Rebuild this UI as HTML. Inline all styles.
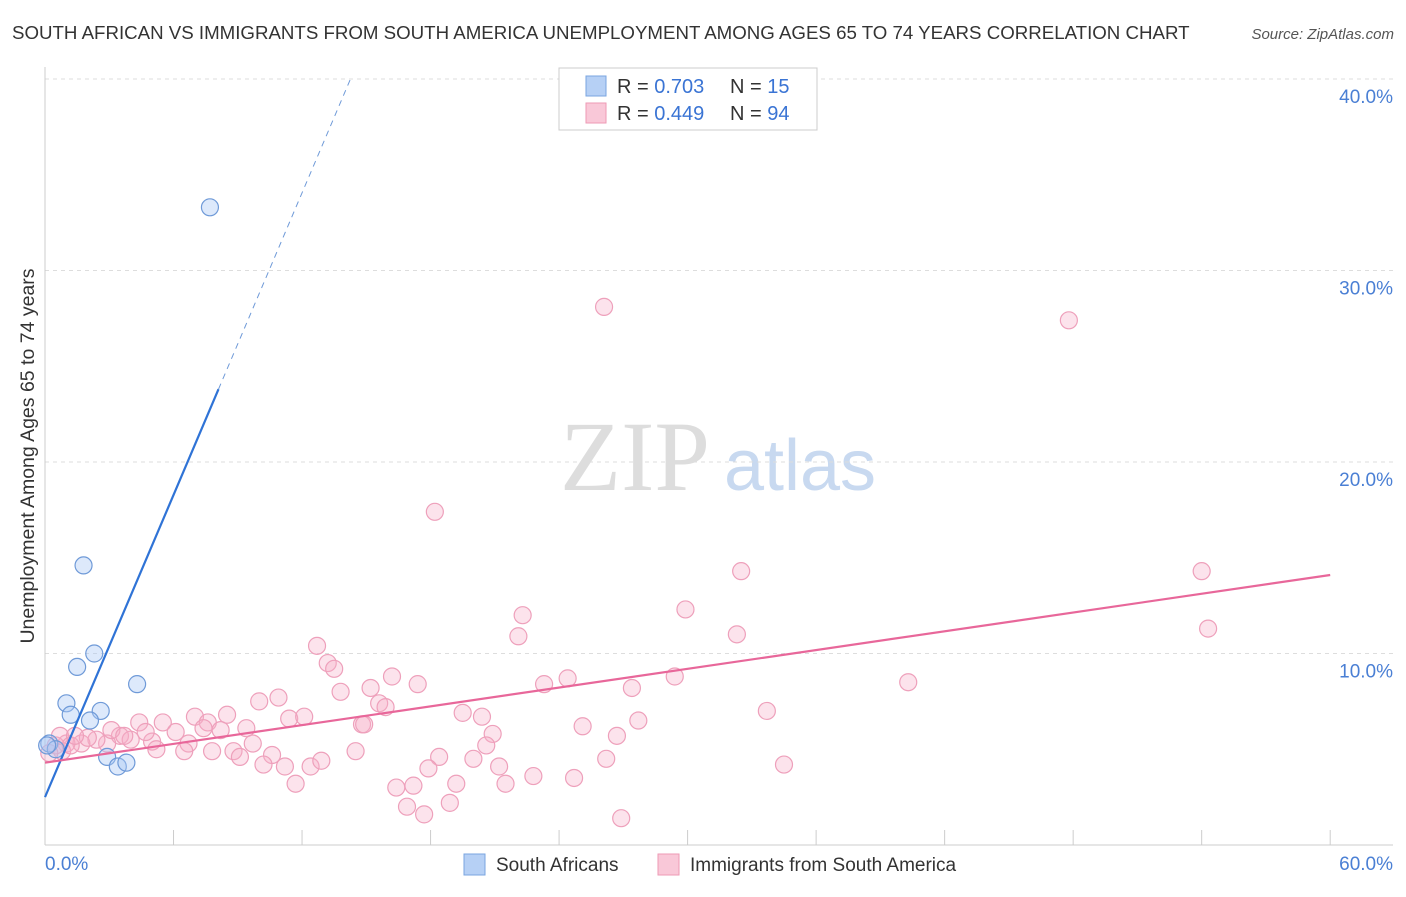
<!DOCTYPE html>
<html><head><meta charset="utf-8"><style>
body{margin:0;background:#fff;font-family:"Liberation Sans",sans-serif;}
svg text{font-family:"Liberation Sans",sans-serif;}
</style></head><body>
<svg id="c" width="1406" height="892" viewBox="0 0 1406 892">
<text x="12" y="39" font-size="18.7" fill="#333">SOUTH AFRICAN VS IMMIGRANTS FROM SOUTH AMERICA UNEMPLOYMENT AMONG AGES 65 TO 74 YEARS CORRELATION CHART</text>
<text x="1394" y="39" font-size="15" fill="#555" font-style="italic" text-anchor="end">Source: ZipAtlas.com</text>
<text transform="translate(34,456) rotate(-90)" font-size="19.5" fill="#333" text-anchor="middle">Unemployment Among Ages 65 to 74 years</text>
<g><text x="635" y="490" font-size="100" fill="#ddd" style="font-family:'Liberation Serif',serif" text-anchor="middle">ZIP</text><text x="800" y="490" font-size="72" fill="#c8d9f0" text-anchor="middle">atlas</text></g>
<g id="grid"></g><g id="axes"></g><g id="pts"></g><g id="lines"></g>
<g>
<rect x="559" y="68" width="258" height="62" fill="#fff" stroke="#ccc"/>
<rect x="586" y="76" width="20" height="20" fill="#b6d0f5" stroke="#7aa5e0"/>
<rect x="586" y="103" width="20" height="20" fill="#f9c8d8" stroke="#ee9ab5"/>
<text x="617" y="93" font-size="20" fill="#333">R = <tspan fill="#3a74d4">0.703</tspan><tspan x="730">N = </tspan><tspan fill="#3a74d4">15</tspan></text>
<text x="617" y="120" font-size="20" fill="#333">R = <tspan fill="#3a74d4">0.449</tspan><tspan x="730">N = </tspan><tspan fill="#3a74d4">94</tspan></text>
</g>
<g>
<rect x="464" y="854" width="21" height="21" fill="#b6d0f5" stroke="#7aa5e0"/>
<text x="496" y="871" font-size="19" fill="#333">South Africans</text>
<rect x="658" y="854" width="21" height="21" fill="#f9c8d8" stroke="#ee9ab5"/>
<text x="690" y="871" font-size="19" fill="#333">Immigrants from South America</text>
</g>
</svg>
<script>
const yTicks=[10,20,30,40];
const yTickLabels=["10.0%","20.0%","30.0%","40.0%"];
const xTickLabels=["0.0%","60.0%"];
const blueX=[7.7,1.8,1.5,2.3,1.0,1.2,2.6,2.1,4.3,2.9,3.4,3.8,0.2,0.5,0.1];
const blueY=[33.3,14.6,9.3,10.0,7.4,6.8,7.0,6.5,8.4,4.6,4.1,4.3,5.3,5.0,5.2];
const pinkX=[26.1,47.8,18.2,32.5,54.0,29.9,22.3,22.1,32.3,54.3,12.7,13.2,13.5,16.2,17.4,23.3,24.4,27.4,29.4,40.3,13.8,15.2,10.0,10.9,15.6,15.9,19.5,20.4,33.7,27.7,25.1,26.7,20.9,20.6,11.4,12.1,14.8,14.9,7.0,7.6,8.5,9.4,5.5,6.1,4.4,7.4,8.2,3.5,4.0,5.0,6.7,5.2,2.9,2.4,1.7,1.0,0.8,7.8,8.8,9.1,9.7,10.6,6.5,10.2,11.2,11.7,12.4,12.9,14.5,18.4,17.9,20.0,21.2,21.5,22.8,24.7,26.2,34.5,19.2,16.4,17.2,16.9,17.7,18.9,26.9,0.5,0.7,1.2,2.0,0.2,1.4,3.1,3.7,4.7];
const pinkY=[28.1,27.4,17.4,14.3,14.3,12.3,12.0,10.9,11.0,11.3,10.4,9.5,9.2,8.8,8.4,8.4,8.7,8.2,8.8,8.5,8.0,8.2,7.5,7.7,7.4,7.2,6.9,6.7,7.0,6.5,6.2,5.7,5.8,5.2,6.6,6.7,6.3,6.3,6.7,6.4,6.8,6.1,6.4,5.9,6.4,6.1,6.0,5.7,5.5,5.4,5.3,5.0,5.3,5.5,5.3,5.3,4.9,4.9,4.9,4.6,5.3,4.7,4.9,4.2,4.1,3.2,4.1,4.4,4.9,4.6,4.0,4.5,4.1,3.2,3.6,3.5,4.5,4.2,3.2,3.0,3.1,2.0,1.6,2.2,1.4,5.2,5.7,5.2,5.6,4.8,5.7,6.0,5.7,5.9];
const blueLine=[0,2.5,8.1,23.8];
const pinkLine=[0,4.3,60,14.1];
const NS="http://www.w3.org/2000/svg";
const sx=v=>45+v*21.42, sy=v=>845-v*19.15;
function mk(t,a,p){const e=document.createElementNS(NS,t);for(const k in a)e.setAttribute(k,a[k]);document.getElementById(p).appendChild(e);return e;}
yTicks.forEach((t,i)=>{
 const g=mk('line',{x1:45,x2:1393,y1:sy(t),y2:sy(t),stroke:'#ddd','stroke-dasharray':'4,4'},'grid');
 
 
 const l=mk('text',{x:1393,y:sy(t)+24,'font-size':19,fill:'#4a7fd4','text-anchor':'end'},'grid');l.textContent=yTickLabels[i];
 
 
});
mk('line',{x1:45,x2:45,y1:67,y2:845,stroke:'#ccc'},'axes');
mk('line',{x1:45,x2:1393,y1:845,y2:845,stroke:'#ccc'},'axes');
for(let i=0;i<=10;i++){const t=mk('line',{x1:sx(i*6),x2:sx(i*6),y1:830,y2:845,stroke:'#ccc'},'axes');
 
 }
const xl0=mk('text',{x:45,y:870,'font-size':19,fill:'#4a7fd4'},'axes');xl0.textContent=xTickLabels[0];


const xl1=mk('text',{x:1393,y:870,'font-size':19,fill:'#4a7fd4','text-anchor':'end'},'axes');xl1.textContent=xTickLabels[1];


pinkX.forEach((x,i)=>{const c=mk('circle',{cx:sx(x),cy:sy(pinkY[i]),r:8.5,fill:'rgba(246,176,200,0.35)',stroke:'#eea0bb','stroke-width':1.2},'pts');
 
 });
blueX.forEach((x,i)=>{const c=mk('circle',{cx:sx(x),cy:sy(blueY[i]),r:8.5,fill:'rgba(170,200,245,0.4)',stroke:'#6f9ad8','stroke-width':1.2},'pts');
 
 });
const slope=(blueLine[3]-blueLine[1])/(blueLine[2]-blueLine[0]);
const bl=mk('line',{x1:sx(blueLine[0]),y1:sy(blueLine[1]),x2:sx(blueLine[2]),y2:sy(blueLine[3]),stroke:'#2f73d6','stroke-width':2.2},'lines');


const xEnd=(40.1-blueLine[1])/slope;
const bd=mk('line',{x1:sx(blueLine[2]),y1:sy(blueLine[3]),x2:sx(xEnd),y2:sy(40.1),stroke:'#6f9ad8','stroke-width':1,'stroke-dasharray':'6,5'},'lines');


const pl=mk('line',{x1:sx(pinkLine[0]),y1:sy(pinkLine[1]),x2:sx(pinkLine[2]),y2:sy(pinkLine[3]),stroke:'#e8679a','stroke-width':2.2},'lines');


</script>
</body></html>
